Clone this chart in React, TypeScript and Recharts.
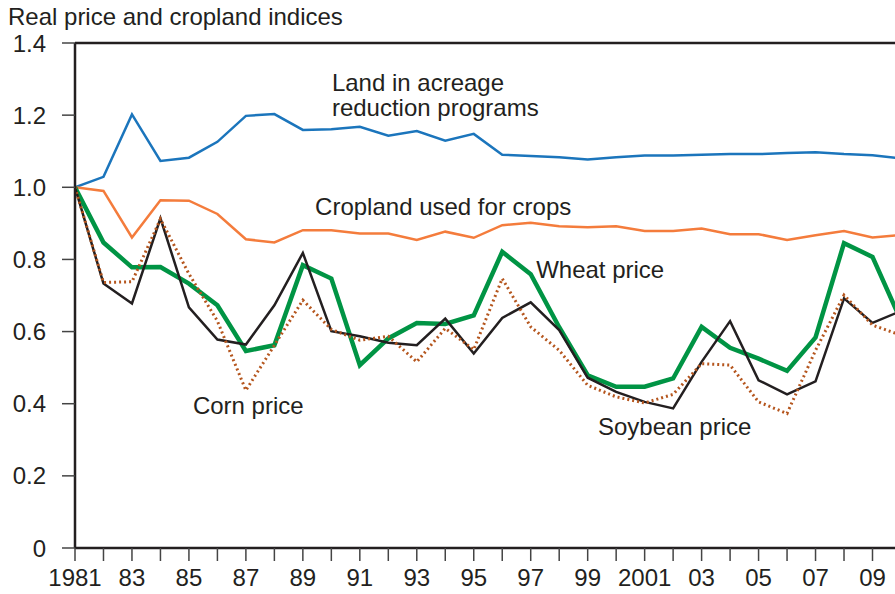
import React from 'react';
import { LineChart, Line, XAxis, YAxis, ReferenceLine, ReferenceDot } from 'recharts';

const years = [1981, 1982, 1983, 1984, 1985, 1986, 1987, 1988, 1989, 1990, 1991, 1992, 1993, 1994, 1995, 1996, 1997, 1998, 1999, 2000, 2001, 2002, 2003, 2004, 2005, 2006, 2007, 2008, 2009, 2010];
const landReduction = [1.0, 1.029, 1.202, 1.073, 1.082, 1.126, 1.198, 1.203, 1.159, 1.161, 1.168, 1.143, 1.156, 1.129, 1.148, 1.09, 1.087, 1.083, 1.077, 1.083, 1.088, 1.088, 1.09, 1.092, 1.092, 1.095, 1.097, 1.092, 1.089, 1.08];
const cropland = [1.0, 0.99, 0.861, 0.964, 0.963, 0.926, 0.856, 0.847, 0.881, 0.881, 0.872, 0.872, 0.854, 0.877, 0.86, 0.895, 0.902, 0.892, 0.889, 0.892, 0.879, 0.879, 0.886, 0.87, 0.87, 0.854, 0.867, 0.879, 0.861, 0.868];
const wheat = [1.0, 0.847, 0.778, 0.779, 0.733, 0.673, 0.546, 0.562, 0.784, 0.747, 0.507, 0.581, 0.624, 0.621, 0.645, 0.821, 0.759, 0.612, 0.479, 0.447, 0.447, 0.47, 0.613, 0.555, 0.525, 0.491, 0.584, 0.845, 0.807, 0.63];
const soybean = [1.0, 0.733, 0.678, 0.914, 0.667, 0.578, 0.564, 0.673, 0.818, 0.601, 0.587, 0.569, 0.562, 0.636, 0.539, 0.638, 0.681, 0.604, 0.472, 0.433, 0.405, 0.387, 0.516, 0.629, 0.465, 0.426, 0.462, 0.692, 0.624, 0.657];
const corn = [1.0, 0.736, 0.738, 0.912, 0.76, 0.629, 0.437, 0.562, 0.687, 0.606, 0.576, 0.587, 0.516, 0.609, 0.55, 0.747, 0.613, 0.548, 0.451, 0.419, 0.402, 0.426, 0.511, 0.507, 0.405, 0.373, 0.548, 0.701, 0.618, 0.59];

const xTicks = years.slice(0, 29);
const yTicks = [0, 0.2, 0.4, 0.6, 0.8, 1.0, 1.2, 1.4];

const data = years.map((year, i) => ({
  year,
  land: landReduction[i],
  crop: cropland[i],
  wheat: wheat[i],
  soy: soybean[i],
  corn: corn[i],
}));

const FONT = '"Liberation Sans", Arial, Helvetica, sans-serif';
const TEXT = '#231f20';
const FS = 24;

const fmtX = (v: number) => {
  if (v % 2 === 0) return '';
  if (v === 1981 || v === 2001) return String(v);
  return String(v).slice(2);
};
const fmtY = (v: number) => (v === 0 ? '0' : v.toFixed(1));

const labels = [
  { x: 1990.02, y: 1.29, text: 'Land in acreage' },
  { x: 1990.02, y: 1.221, text: 'reduction programs' },
  { x: 1989.43, y: 0.948, text: 'Cropland used for crops' },
  { x: 1997.19, y: 0.773, text: 'Wheat price' },
  { x: 1985.14, y: 0.396, text: 'Corn price' },
  { x: 1999.36, y: 0.338, text: 'Soybean price' },
];

export default function App() {
  return (
    <div style={{ position: 'absolute', left: 0, top: 0, width: 895, height: 594, background: '#fff', fontFamily: FONT }}>
      <div style={{ position: 'absolute', left: 8, top: 5, fontSize: FS, lineHeight: '24px', color: TEXT, whiteSpace: 'nowrap' }}>
        Real price and cropland indices
      </div>
      <LineChart width={895} height={594} data={data} margin={{ top: 43, right: 0, left: 0, bottom: 0 }}>
        <XAxis
          dataKey="year"
          type="number"
          domain={[1981, 2009.79]}
          allowDataOverflow
          ticks={xTicks}
          interval={0}
          tickFormatter={fmtX}
          height={46}
          tickSize={13}
          tickMargin={8}
          axisLine={{ stroke: TEXT, strokeWidth: 2.5 }}
          tickLine={{ stroke: '#444', strokeWidth: 1.5 }}
          tick={{ fill: TEXT, fontSize: FS, fontFamily: FONT }}
        />
        <YAxis
          type="number"
          domain={[0, 1.4]}
          ticks={yTicks}
          interval={0}
          tickFormatter={fmtY}
          width={75}
          tickSize={13}
          tickMargin={16}
          axisLine={{ stroke: TEXT, strokeWidth: 2.5 }}
          tickLine={{ stroke: '#444', strokeWidth: 1.5 }}
          tick={{ fill: TEXT, fontSize: FS, fontFamily: FONT }}
        />
        <ReferenceLine y={1.4} stroke={TEXT} strokeWidth={2.5} />
        <Line type="linear" dataKey="land" stroke="#1b75bc" strokeWidth={2.5} dot={false} isAnimationActive={false} />
        <Line type="linear" dataKey="crop" stroke="#f47c3c" strokeWidth={2.5} dot={false} isAnimationActive={false} />
        <Line type="linear" dataKey="wheat" stroke="#009444" strokeWidth={4.5} dot={false} isAnimationActive={false} />
        <Line type="linear" dataKey="soy" stroke={TEXT} strokeWidth={2.5} dot={false} isAnimationActive={false} />
        <Line type="linear" dataKey="corn" stroke="#b5561e" strokeWidth={3} strokeDasharray="2 3" dot={false} isAnimationActive={false} />
        {labels.map((l) => (
          <ReferenceDot
            key={l.text}
            x={l.x}
            y={l.y}
            r={0}
            fill="none"
            stroke="none"
            label={{ value: l.text, position: 'right', offset: 0, fill: TEXT, fontSize: FS, fontFamily: FONT }}
          />
        ))}
      </LineChart>
    </div>
  );
}
